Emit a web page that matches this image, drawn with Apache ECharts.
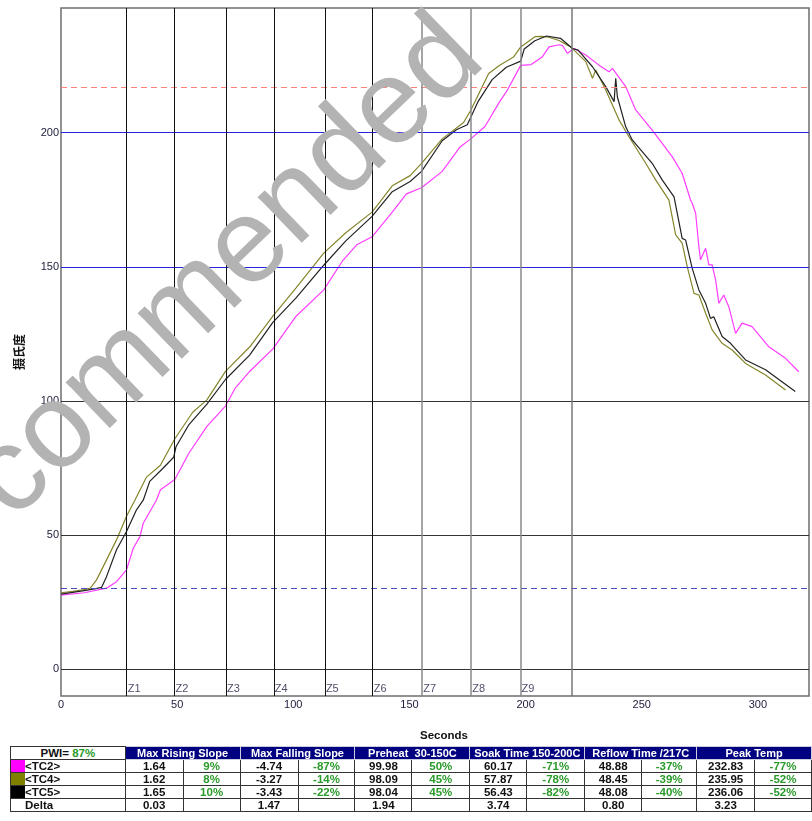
<!DOCTYPE html>
<html><head><meta charset="utf-8">
<script src="https://cdn.jsdelivr.net/npm/echarts@6.0.0/dist/echarts.min.js"></script>
<style>
html,body{margin:0;padding:0;background:#fff;}
#chart{position:absolute;left:0;top:0;width:812px;height:821px;}
#tbl{position:absolute;left:10px;top:746px;border-collapse:collapse;table-layout:fixed;font-family:"Liberation Sans",Arial,sans-serif;font-weight:bold;font-size:11.5px;color:#111;}
#tbl td{border:1px solid #333;height:12px;padding:0;line-height:12px;text-align:center;white-space:nowrap;overflow:hidden;}
#tbl tr.hd td{background:#000080;color:#fff;border-color:#ccd;font-size:11px;}
#tbl tr.hd td.pwi{background:#fff;color:#111;border-color:#333;font-size:11.5px;}
#tbl td.lbl{text-align:left;}
#tbl .sw{display:inline-block;width:14px;height:12px;vertical-align:top;}
#tbl .g{color:#2a9a2a;}
</style>
</head><body>
<div id="chart"></div>
<table id="tbl"></table>
<script>
// ---- data ----
const xTicks = [0, 50, 100, 150, 200, 250, 300];
const yTicks = [0, 50, 100, 150, 200];
const zoneNames = ['Z1','Z2','Z3','Z4','Z5','Z6','Z7','Z8','Z9'];
const zoneX = [28.3, 48.9, 71.0, 91.6, 113.6, 134.2, 155.5, 176.6, 197.8];
const zoneEnd = 219.7;

const tc2Time = [0, 10, 19.6, 23.9, 28.2, 31.1, 34, 35.4, 41.1, 42.8, 49, 55.1, 62.8, 70.8, 75.1, 81.2, 91.2, 101.2, 113.1, 121.1, 127.3, 133.9, 142.6, 148.7, 155.2, 164.1, 171.8, 176.4, 182.5, 188.7, 191.7, 197.9, 202.4, 207.1, 210.1, 214.4, 215.9, 218, 220.9, 225.9, 231.6, 235.9, 237.4, 243.1, 247.4, 254.5, 263.1, 267.4, 271, 271.7, 273.2, 274.6, 275.3, 277.5, 278.9, 280.3, 281.8, 283.2, 285.3, 287.5, 290.4, 293.2, 297.5, 304.7, 311.9, 317.6];
const tc2Temp = [27.6, 28.5, 30.2, 32.6, 37, 45.1, 49.4, 54.4, 63.1, 66.9, 70.7, 80.6, 90.5, 98.1, 104.9, 111, 119.4, 131.6, 141.4, 152.1, 158.2, 161.2, 170.4, 177.2, 179.5, 185.6, 194.7, 197.7, 202.3, 211.4, 215.2, 225.1, 225.4, 228.2, 232, 232.8, 232.5, 229.6, 231.4, 229, 225.2, 222.7, 224, 217.2, 208.5, 201, 191.1, 184.9, 174.9, 173.7, 170, 157.5, 152.6, 156.9, 150.7, 150.7, 145.1, 136.4, 139.5, 135.1, 125.2, 129, 127.7, 120.2, 115.9, 110.9];

const tc4Time = [0, 5, 10, 12.6, 15.3, 23.9, 28.2, 31.8, 36.7, 42.8, 49, 56.7, 62.8, 70.8, 81.2, 91.2, 101.2, 113.1, 122.6, 133.9, 142.6, 150.3, 155.2, 164.1, 173.3, 176.4, 184.1, 188.7, 194.8, 197.9, 204, 207, 210, 214.4, 219.4, 225.9, 228.8, 230.2, 234.5, 240.2, 244.5, 251.7, 256, 261.7, 264.6, 267.4, 269.6, 272.5, 274.6, 277.5, 280.3, 284.6, 288.9, 294.7, 303.3, 311.9];
const tc4Temp = [28.5, 29, 29.7, 30.2, 33.3, 48.2, 57, 63, 71.5, 76, 85.9, 95.8, 100.4, 111, 120.1, 131.6, 142.2, 155.1, 162.7, 170.4, 180.2, 184, 188.6, 197.7, 203.8, 208.4, 222.1, 225.1, 228.2, 232, 235.8, 235.95, 235.6, 234.4, 232, 226.5, 220.3, 223.4, 215.9, 204.8, 198.5, 188.6, 182.4, 174.9, 161.9, 158.8, 150, 140.1, 139.5, 132.7, 126.5, 121.5, 119, 114, 109.7, 104.1];

const tc5Time = [0, 5, 10, 15, 17.5, 19.6, 23.9, 28.2, 32.5, 35.4, 38.2, 44, 48.5, 49.5, 55.1, 62.8, 70.8, 81.2, 91.2, 101.2, 113.1, 122.6, 133.9, 142.6, 150.3, 155.2, 164.1, 170.2, 174.9, 179.4, 185.6, 191.7, 197.9, 199.4, 204, 209, 215, 220.2, 222.6, 228.8, 234.5, 238.1, 238.8, 239.5, 243.1, 245.9, 254.5, 258.8, 263.9, 267.4, 268.9, 271.7, 274.6, 277.5, 279.6, 281, 284.6, 288.2, 294.7, 303.3, 316.1];
const tc5Temp = [28, 28.6, 29.3, 30, 30.5, 34.5, 44.5, 51.3, 59.4, 63, 70, 75, 79, 82.9, 91.2, 98.8, 108, 117.1, 129.3, 138.4, 150.6, 159.7, 168.8, 178, 181.8, 185.6, 197, 201.1, 203, 211.4, 219.8, 224.4, 226.7, 231.2, 234.3, 236.06, 235.2, 231.4, 230.8, 224.6, 217.2, 211.6, 220.3, 213.4, 202.2, 197.3, 188.6, 182.4, 176.1, 160.6, 160, 149.5, 141.4, 136.4, 130.8, 131.4, 124, 121.5, 115.3, 111.6, 103.5];

const seriesNames = ['<TC2>', '<TC4>', '<TC5>'];
const seriesColors = ['#ff3cff', '#85852a', '#222222'];
const pwiValue = '87%';
const statHeaders = ['Max Rising Slope', 'Max Falling Slope', 'Preheat&nbsp; 30-150C', 'Soak Time 150-200C', 'Reflow Time /217C', 'Peak Temp'];
const tc2Stats = ['1.64','9%','-4.74','-87%','99.98','50%','60.17','-71%','48.88','-37%','232.83','-77%'];
const tc4Stats = ['1.62','8%','-3.27','-14%','98.09','45%','57.87','-78%','48.45','-39%','235.95','-52%'];
const tc5Stats = ['1.65','10%','-3.43','-22%','98.04','45%','56.43','-82%','48.08','-40%','236.06','-52%'];
const deltaStats = ['0.03','','1.47','','1.94','','3.74','','0.80','','3.23',''];

// ---- table ----
const colW = [115, 58,57, 58,57, 57,58, 57,58, 57,55, 58,57];
(function buildTable(){
  const t = document.getElementById('tbl');
  let h = '<colgroup>' + colW.map(w => '<col style="width:' + w + 'px">').join('') + '</colgroup>';
  h += '<tr class="hd"><td class="pwi">PWI= <span class="g">' + pwiValue + '</span></td>' +
       statHeaders.map(s => '<td colspan="2">' + s + '</td>').join('') + '</tr>';
  const rows = [tc2Stats, tc4Stats, tc5Stats];
  const esc = s => s.replace(/</g,'&lt;').replace(/>/g,'&gt;');
  rows.forEach((r, i) => {
    h += '<tr><td class="lbl"><span class="sw" style="background:' + (i===0?'#ff00ff':i===1?'#808000':'#000') + '"></span>' + esc(seriesNames[i]) + '</td>' +
      r.map((v, j) => '<td' + (j % 2 ? ' class="g"' : '') + '>' + v + '</td>').join('') + '</tr>';
  });
  h += '<tr><td class="lbl"><span class="sw"></span>Delta</td>' + deltaStats.map(v => '<td>' + v + '</td>').join('') + '</tr>';
  t.innerHTML = h;
})();

// ---- chart ----
const pair = (ts, vs) => ts.map((t, i) => [t, vs[i]]);
const chart = echarts.init(document.getElementById('chart'));
const hLine = (v, color, type, width) => ({ yAxis: v, lineStyle: { color: color, type: type, width: width } });
const vLine = (v, color, width) => ({ xAxis: v, lineStyle: { color: color, type: 'solid', width: width } });

const option = {
  animation: false,
  textStyle: { fontFamily: '"Liberation Sans", Arial, sans-serif' },
  grid: { left: 61, right: 3, top: 8, bottom: 125, show: true, borderColor: '#6e6e6e', borderWidth: 1.5, backgroundColor: 'transparent' },
  xAxis: {
    type: 'value', min: 0, max: 322,
    name: 'Seconds', nameLocation: 'middle', nameGap: 34,
    nameTextStyle: { fontWeight: 'bold', fontSize: 11.5, color: '#111', padding: [0, 0, 0, 18] },
    axisLine: { show: false }, axisTick: { show: false }, splitLine: { show: false },
    axisLabel: { customValues: xTicks, color: '#1b1b3a', fontSize: 11, margin: 3 }
  },
  yAxis: {
    type: 'value', min: -10, max: 246.5,
    name: '摄氏度', nameLocation: 'middle', nameGap: 36, nameRotate: 90,
    nameTextStyle: { fontWeight: 'bold', fontSize: 12, color: '#111', fontFamily: '"Noto Sans CJK SC", sans-serif' },
    axisLine: { show: false }, axisTick: { show: false }, splitLine: { show: false },
    axisLabel: { customValues: yTicks, color: '#1b1b3a', fontSize: 11, margin: 2 }
  },
  graphic: [{
    type: 'text', x: 172, y: 322, rotation: 44 * Math.PI / 180, z: 100, silent: true,
    style: { text: 'Recommended', fill: '#b3b3b3', fontSize: 120, fontFamily: '"Liberation Sans", Arial, sans-serif', align: 'center', verticalAlign: 'middle' }
  }],
  series: [
    {
      type: 'line', data: [], silent: true,
      markLine: {
        silent: true, symbol: ['none', 'none'], label: { show: false },
        data: [
          hLine(0, '#333', 'solid', 1), hLine(50, '#333', 'solid', 1), hLine(100, '#333', 'solid', 1),
          hLine(150, '#2626e0', 'solid', 1), hLine(200, '#2626e0', 'solid', 1),
          hLine(30, '#4a4ac0', [6, 4], 1), hLine(217, '#ff7f7f', [6, 4], 1),
          ...zoneX.map((x, i) => vLine(x, i < 6 ? '#111' : '#888', i < 6 ? 1 : 1.5)),
          vLine(zoneEnd, '#777', 1.5)
        ]
      }
    },
    {
      type: 'scatter', silent: true, symbolSize: 0,
      data: zoneX.map((x, i) => ({ value: [x, -7.3], name: zoneNames[i] })),
      label: { show: true, position: 'right', distance: 1, formatter: '{b}', color: '#1a1a40', fontSize: 11 }
    },
    { name: seriesNames[0], type: 'line', showSymbol: false, data: pair(tc2Time, tc2Temp), lineStyle: { color: seriesColors[0], width: 1.2 }, itemStyle: { color: seriesColors[0] } },
    { name: seriesNames[1], type: 'line', showSymbol: false, data: pair(tc4Time, tc4Temp), lineStyle: { color: seriesColors[1], width: 1.2 }, itemStyle: { color: seriesColors[1] } },
    { name: seriesNames[2], type: 'line', showSymbol: false, data: pair(tc5Time, tc5Temp), lineStyle: { color: seriesColors[2], width: 1.2 }, itemStyle: { color: seriesColors[2] } }
  ]
};
chart.setOption(option);
</script>
</body></html>
